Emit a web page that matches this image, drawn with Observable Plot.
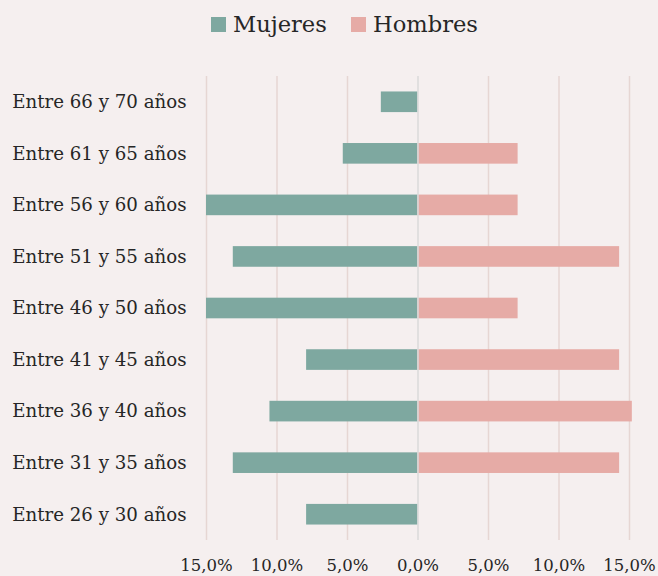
<!DOCTYPE html>
<html>
<head>
<meta charset="utf-8">
<script src="https://cdn.jsdelivr.net/npm/d3@7"></script>
<script src="https://cdn.jsdelivr.net/npm/@observablehq/plot@0.6"></script>
<style>
  html, body { margin: 0; padding: 0; background: #f5efef; }
  body { width: 658px; height: 576px; overflow: hidden; font-family: "DejaVu Serif", serif; color: #262626; }
  #legend { position: relative; height: 50px; }
  .item { position: absolute; top: 8px; display: flex; align-items: center; font-size: 22.6px; height: 32px; }
  .sw { width: 15px; height: 15px; margin-right: 7px; }
  #chart svg { display: block; }
</style>
</head>
<body>
<div id="legend">
  <div class="item" style="left:211px"><span class="sw" style="background:#7ea8a0"></span><span>Mujeres</span></div>
  <div class="item" style="left:351px"><span class="sw" style="background:#e6aba6"></span><span>Hombres</span></div>
</div>
<div id="chart"></div>
<script>
const categories = [
  "Entre 66 y 70 años",
  "Entre 61 y 65 años",
  "Entre 56 y 60 años",
  "Entre 51 y 55 años",
  "Entre 46 y 50 años",
  "Entre 41 y 45 años",
  "Entre 36 y 40 años",
  "Entre 31 y 35 años",
  "Entre 26 y 30 años"
];
const mujeres = [2.6, 5.3, 15.0, 13.1, 15.0, 7.9, 10.5, 13.1, 7.9];
const hombres = [0, 7.1, 7.1, 14.3, 7.1, 14.3, 15.2, 14.3, 0];
const ticks = [-15, -10, -5, 0, 5, 10, 15];

const dataM = categories.map((c, i) => ({cat: c, v: mujeres[i]}));
const dataH = categories.map((c, i) => ({cat: c, v: hombres[i]}));

const fmt = d => Math.abs(d).toFixed(1).replace(".", ",") + "%";

const chart = Plot.plot({
  width: 658,
  height: 526,
  marginTop: 26,
  marginBottom: 36,
  marginLeft: 206,
  marginRight: 29,
  style: {background: "transparent", fontFamily: "DejaVu Serif, serif", color: "#262626"},
  x: {domain: [-15, 15], ticks: ticks, tickFormat: fmt, label: null},
  y: {domain: categories, paddingInner: 0.6, paddingOuter: 0.3, round: false, label: null},
  marks: [
    Plot.ruleX(ticks.filter(t => t !== 0), {stroke: "#e6d6d3", strokeWidth: 1.5}),
    Plot.barX(dataM.filter(d => d.v > 0), {y: "cat", x1: 0, x2: d => -d.v, fill: "#7ea8a0"}),
    Plot.barX(dataH.filter(d => d.v > 0), {y: "cat", x1: 0, x2: d => d.v, fill: "#e6aba6"}),
    Plot.ruleX([0], {stroke: "#dadada", strokeWidth: 1.5}),
    Plot.axisX({ticks: ticks, tickFormat: fmt, tickSize: 0, tickPadding: 19, fontSize: 16.5, label: null, fill: "#262626"}),
    Plot.axisY({tickSize: 0, tickPadding: 20, fontSize: 18.2, label: null, fill: "#262626"})
  ]
});
document.getElementById("chart").appendChild(chart);
</script>
</body>
</html>
